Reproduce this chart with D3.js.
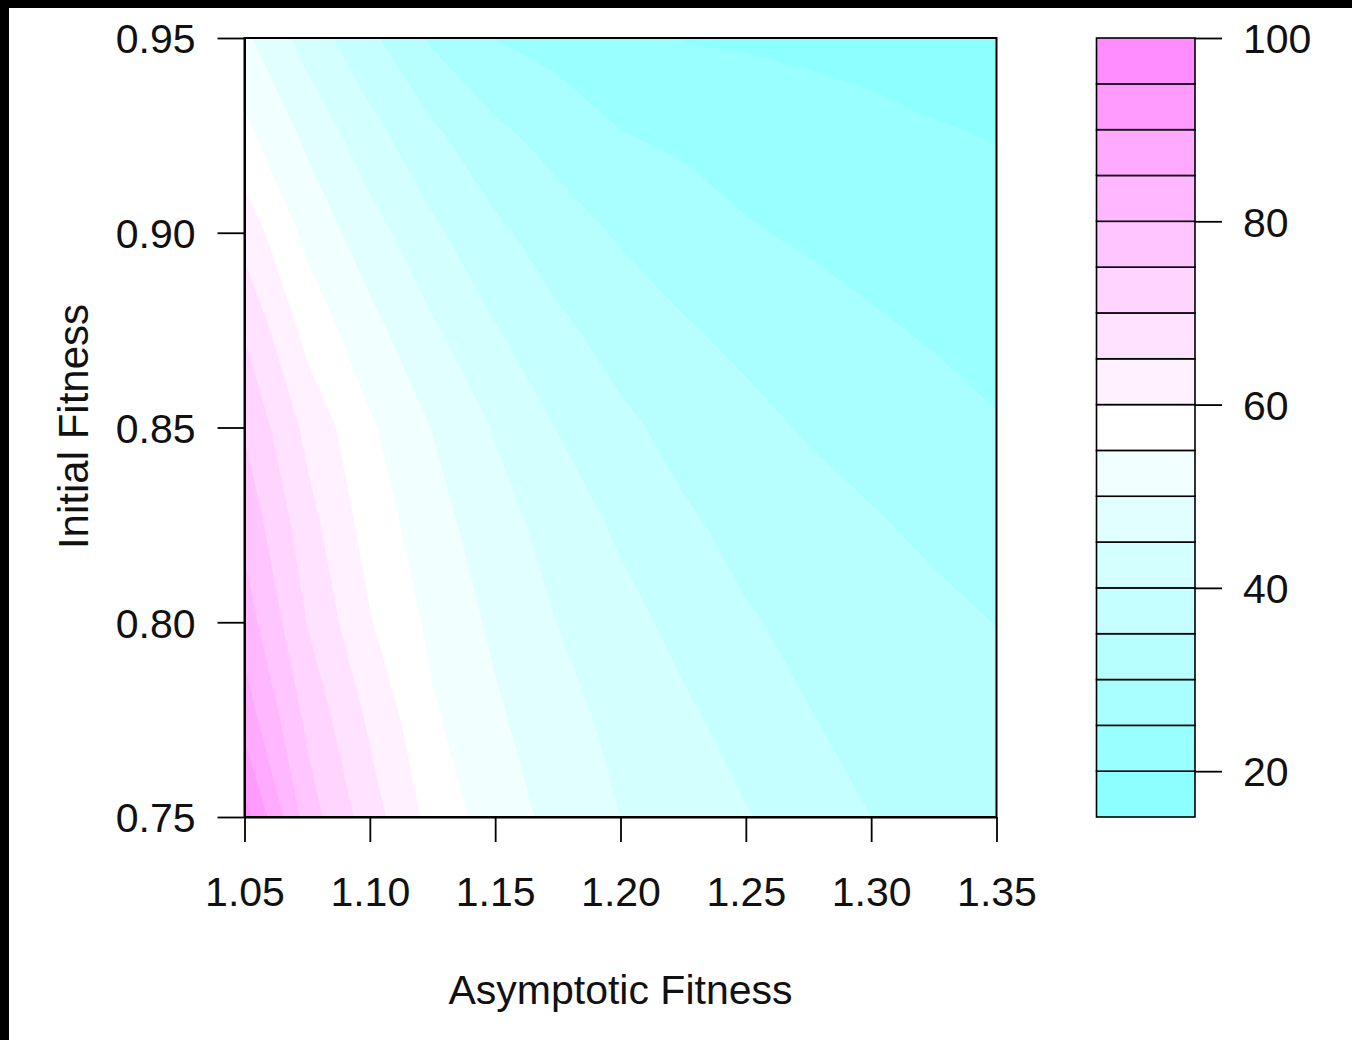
<!DOCTYPE html>
<html><head><meta charset="utf-8">
<script src="https://cdn.jsdelivr.net/npm/d3@7"></script>
<style>
body{margin:0;background:#fff}
svg{display:block}
text{font-family:"Liberation Sans", Arial, Helvetica, sans-serif;}
</style>
</head><body>
<svg id="c" width="1352" height="1040"></svg>
<script>
// ---- data ----
const asymptoticFitness = [1.05, 1.075, 1.10, 1.125, 1.15, 1.175, 1.20, 1.225, 1.25, 1.275, 1.30, 1.325, 1.35];
const initialFitness = [0.75, 0.775, 0.80, 0.825, 0.85, 0.875, 0.90, 0.925, 0.95];
// one row per initial fitness (bottom to top), one value per asymptotic fitness
const surface = [
  [97.0, 77.5, 67.3, 58.2, 52.5, 48.5, 45.0, 42.6, 40.3, 37.7, 35.0, 33.5, 32.0],
  [88.0, 73.8, 64.1, 55.7, 50.8, 46.8, 43.6, 40.9, 38.1, 35.2, 33.7, 32.4, 31.0],
  [82.6, 69.8, 60.3, 53.8, 49.0, 44.9, 41.7, 38.5, 35.4, 33.9, 32.5, 31.2, 29.9],
  [78.6, 66.9, 57.8, 52.0, 47.0, 42.9, 39.1, 35.7, 33.7, 32.1, 30.5, 29.0, 27.7],
  [74.5, 63.6, 55.7, 49.8, 44.6, 39.8, 36.0, 33.5, 31.4, 29.5, 28.1, 26.7, 25.3],
  [69.5, 58.3, 51.6, 45.7, 40.3, 36.0, 33.0, 30.5, 28.7, 27.1, 25.6, 24.5, 23.6],
  [63.1, 53.6, 47.1, 41.0, 36.0, 32.4, 29.4, 27.4, 25.4, 24.3, 23.4, 22.6, 21.7],
  [56.3, 48.9, 41.8, 36.0, 31.2, 28.0, 25.2, 24.1, 23.2, 22.3, 21.3, 20.4, 19.8],
  [51.0, 42.8, 36.0, 29.2, 24.9, 23.2, 21.4, 19.8, 19.4, 18.9, 18.5, 18.0, 17.5]
];
const contourLevels = [15, 20, 25, 30, 35, 40, 45, 50, 55, 60, 65, 70, 75, 80, 85, 90, 95, 100];
const xTicks = [1.05, 1.10, 1.15, 1.20, 1.25, 1.30, 1.35];
const yTicks = [0.75, 0.80, 0.85, 0.90, 0.95];
const legendTicks = [20, 40, 60, 80, 100];
const xTitle = "Asymptotic Fitness";
const yTitle = "Initial Fitness";
// cm.colors(17), slightly washed as in the reference
const baseColors = ["#80FFFF","#8FFFFF","#9FFFFF","#AFFFFF","#BFFFFF","#CFFFFF","#DFFFFF","#EFFFFF","#FFFFFF",
                    "#FFEFFF","#FFDFFF","#FFCFFF","#FFBFFF","#FFAFFF","#FF9FFF","#FF8FFF","#FF80FF"];
const palette = baseColors.map(c => d3.interpolateRgb(c, "#ffffff")(0.1));

// ---- layout ----
const svg = d3.select("#c");
const P = {left: 244.5, right: 996.5, top: 38, bottom: 817};
const L = {left: 1096.5, right: 1195};
const FS = 41;
const FF = '"Liberation Sans", Arial, Helvetica, sans-serif';

const x = d3.scaleLinear().domain([1.05, 1.35]).range([P.left, P.right]);
const y = d3.scaleLinear().domain([0.75, 0.95]).range([P.bottom, P.top]);
const ly = d3.scaleLinear().domain([15, 100]).range([P.bottom, P.top]);

svg.append("rect").attr("width", 1352).attr("height", 1040).attr("fill", "#fff");

svg.append("defs").append("clipPath").attr("id", "plotclip")
  .append("rect").attr("x", P.left).attr("y", P.top)
  .attr("width", P.right - P.left).attr("height", P.bottom - P.top);

// filled contours
const nx = asymptoticFitness.length, ny = initialFitness.length;
const dxs = asymptoticFitness[1] - asymptoticFitness[0];
const dys = initialFitness[1] - initialFitness[0];
const flat = [];
for (let j = 0; j < ny; j++) for (let i = 0; i < nx; i++) flat.push(surface[j][i]);
const contours = d3.contours().size([nx, ny]).thresholds(contourLevels.slice(0, -1))(flat);
const proj = d3.geoTransform({
  point: function(px, py) {
    this.stream.point(x(asymptoticFitness[0] + (px - 0.5) * dxs), y(initialFitness[0] + (py - 0.5) * dys));
  }
});
const path = d3.geoPath(proj);
svg.append("g").attr("clip-path", "url(#plotclip)")
  .selectAll("path").data(contours).join("path")
  .attr("d", path)
  .attr("fill", d => palette[contourLevels.indexOf(d.value)])
  .attr("stroke", d => palette[contourLevels.indexOf(d.value)])
  .attr("stroke-width", 0.5);

// box
svg.append("rect").attr("x", P.left).attr("y", P.top)
  .attr("width", P.right - P.left).attr("height", P.bottom - P.top)
  .attr("fill", "none").attr("stroke", "#000").attr("stroke-width", 2);

function styleAxis(g) {
  g.attr("font-size", FS).attr("font-family", FF);
  g.selectAll("line").attr("stroke", "#000").attr("stroke-width", 1.8);
  g.selectAll("path.domain").attr("stroke", "#000").attr("stroke-width", 2);
  g.selectAll("text").attr("fill", "#111");
}

// y axis
const gy = svg.append("g").attr("transform", `translate(${P.left},0)`)
  .call(d3.axisLeft(y).tickValues(yTicks).tickSize(27).tickSizeOuter(0).tickPadding(22).tickFormat(d3.format(".2f")));
styleAxis(gy);
gy.selectAll("text").attr("dy", "0.36em");

// x axis
const gx = svg.append("g").attr("transform", `translate(0,${P.bottom})`)
  .call(d3.axisBottom(x).tickValues(xTicks).tickSize(25).tickSizeOuter(0).tickPadding(35).tickFormat(d3.format(".2f")));
styleAxis(gx);

// titles
svg.append("text").attr("x", (P.left + P.right) / 2).attr("y", 1004)
  .attr("text-anchor", "middle").attr("font-size", FS).attr("fill", "#111").text(xTitle);
svg.append("text").attr("transform", `translate(88,${(P.top + P.bottom) / 2 - 1}) rotate(-90)`)
  .attr("text-anchor", "middle").attr("font-size", 42).attr("fill", "#111").text(yTitle);

// legend
const bands = d3.range(contourLevels.length - 1).map(i => ({lo: contourLevels[i], hi: contourLevels[i + 1], c: palette[i]}));
svg.append("g").selectAll("rect").data(bands).join("rect")
  .attr("x", L.left).attr("width", L.right - L.left)
  .attr("y", d => ly(d.hi)).attr("height", d => ly(d.lo) - ly(d.hi))
  .attr("fill", d => d.c).attr("stroke", "#000").attr("stroke-width", 1.6);
const gl = svg.append("g").attr("transform", `translate(${L.right},0)`)
  .call(d3.axisRight(ly).tickValues(legendTicks).tickSize(27).tickSizeOuter(0).tickPadding(21));
styleAxis(gl);
gl.select("path.domain").remove();
gl.selectAll("text").attr("dy", "0.36em");

// black strips at the image edges
svg.append("rect").attr("x", 0).attr("y", 0).attr("width", 1352).attr("height", 8).attr("fill", "#000");
svg.append("rect").attr("x", 0).attr("y", 0).attr("width", 9).attr("height", 1040).attr("fill", "#000");
</script>
</body></html>
